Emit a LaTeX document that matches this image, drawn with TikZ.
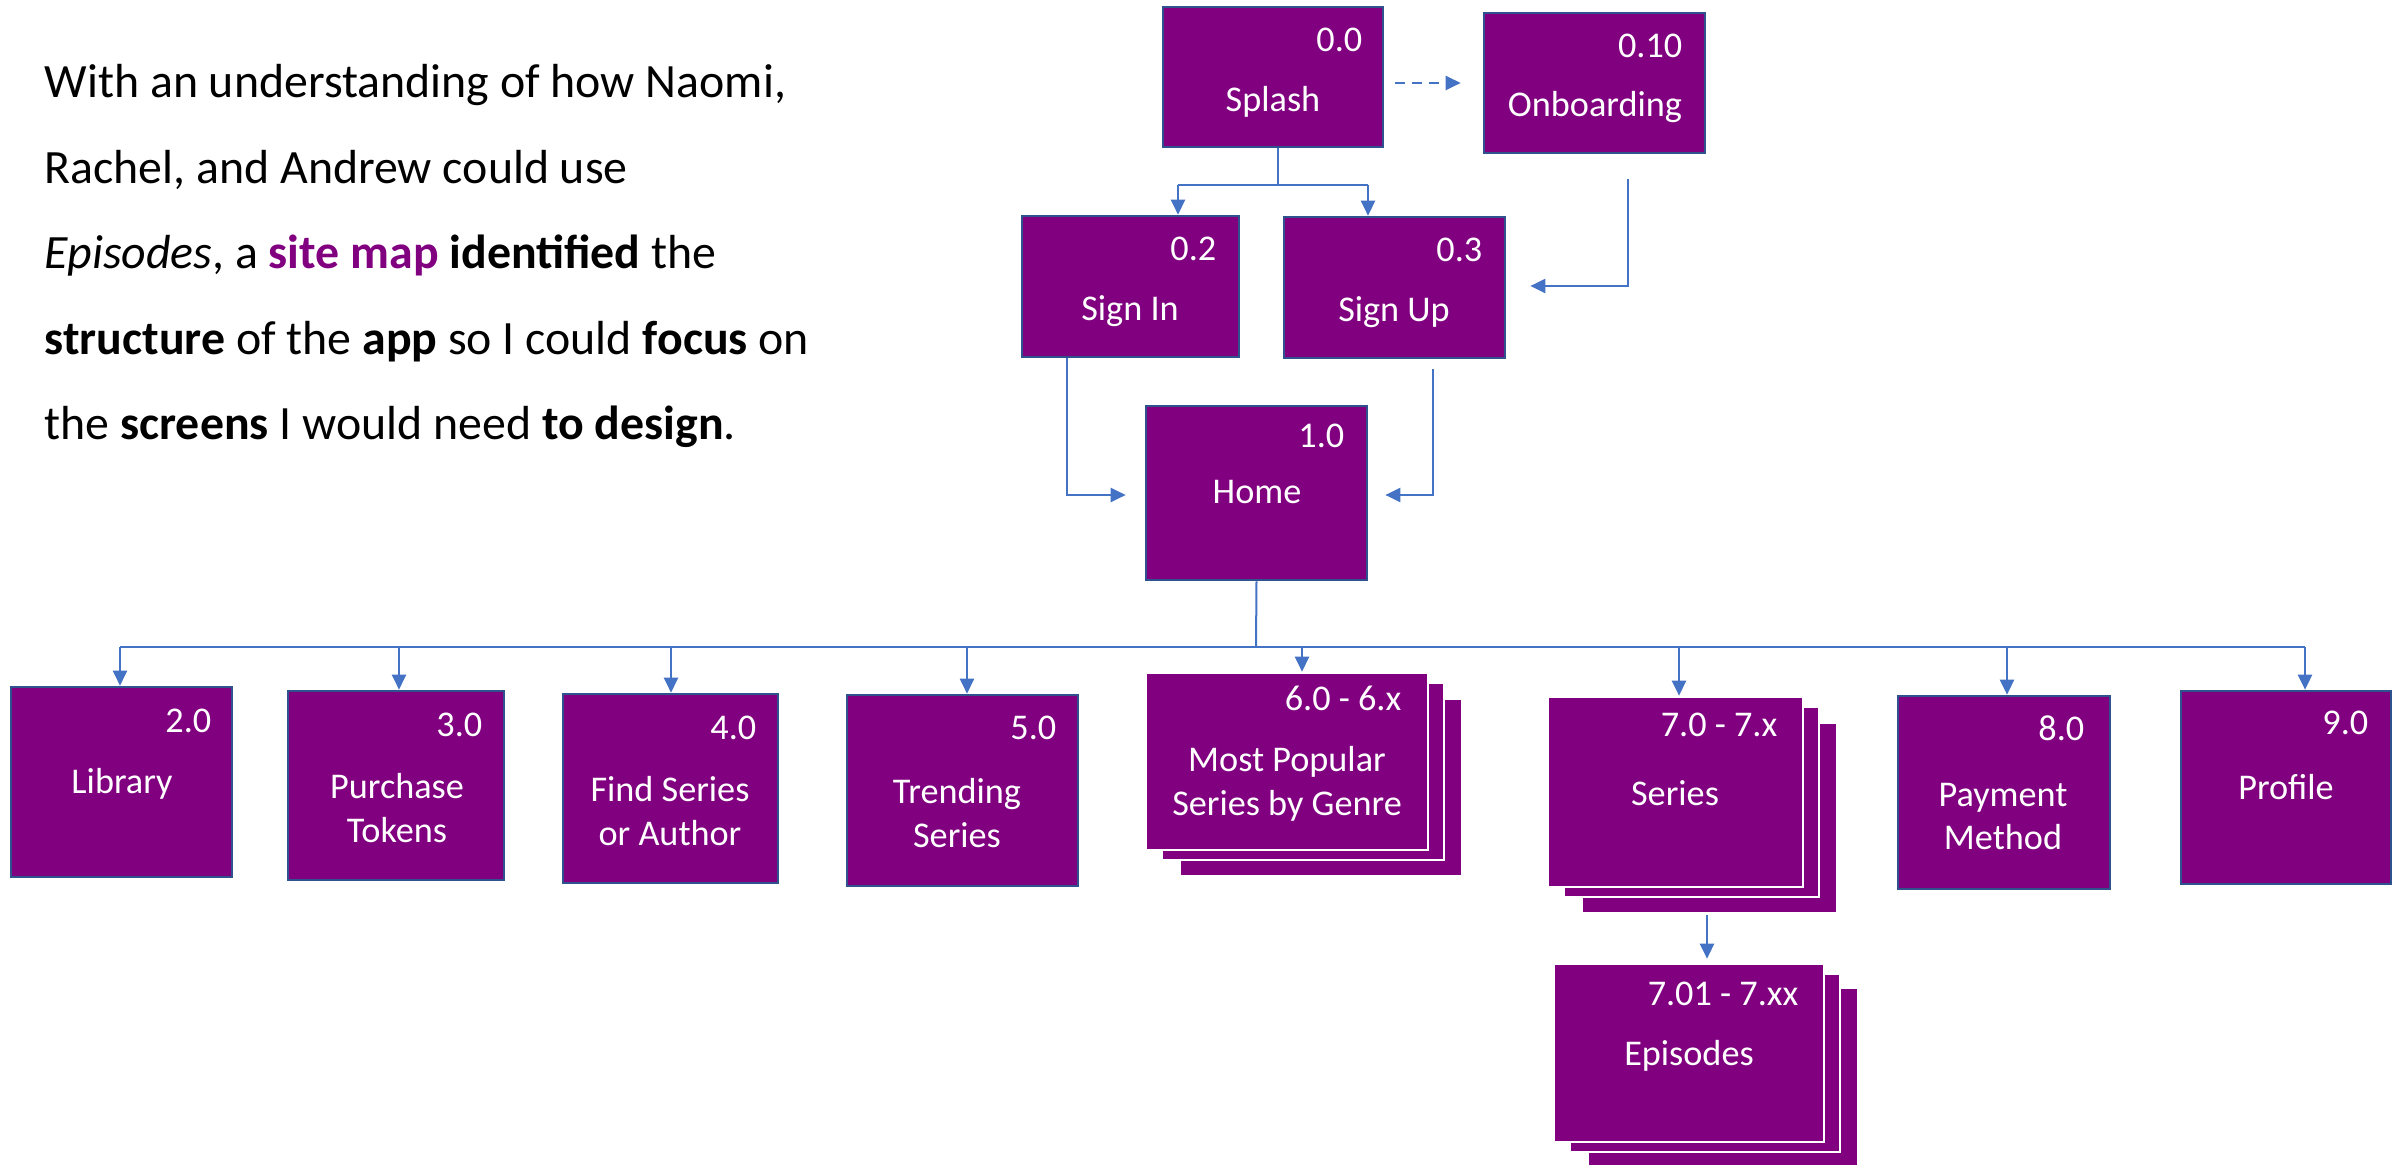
\documentclass[tikz,border=0pt]{standalone}
\usepackage{fontspec}
\setmainfont{Carlito}
\usetikzlibrary{arrows.meta}
\definecolor{boxfill}{HTML}{800080}
\definecolor{boxline}{HTML}{2F528F}
\definecolor{linkblue}{HTML}{4472C4}
\begin{document}
\begin{tikzpicture}[x=0.01cm, y=-0.01cm,
    box/.style={draw=boxline, fill=boxfill, line width=0.025cm, inner sep=0pt},
    sheet/.style={draw=white, fill=boxfill, line width=0.025cm, inner sep=0pt},
    scrnum/.style={anchor=base east, inner sep=0pt, text=white, font=\fontsize{10.3pt}{12.5pt}\selectfont},
    scrname/.style={anchor=base, inner sep=0pt, align=center, text=white, font=\fontsize{10.3pt}{12.5pt}\selectfont},
    para/.style={anchor=base west, inner sep=0pt, font=\fontsize{13.6pt}{16pt}\selectfont},
    link/.style={draw=linkblue, line width=0.02cm},
    arr/.style={link, line width=0.025cm, -{Triangle[length=0.15cm, width=0.14cm]}},
    dasharr/.style={arr, dash pattern=on 0.1cm off 0.07cm}]
            \useasboundingbox (0,0) rectangle (2402,1167);
            \node[para] (line1) at (44,98) {With an understanding of how Naomi,};
            \node[para] (line2) at (44,184) {Rachel, and Andrew could use};
            \node[para] (line3) at (44,269) {\textit{Episodes}, a \textcolor{boxfill}{\textbf{site map}} \textbf{identified} the};
            \node[para] (line4) at (44,355) {\textbf{structure} of the \textbf{app} so I could \textbf{focus} on};
            \node[para] (line5) at (44,440) {the \textbf{screens} I would need \textbf{to design}.};
            \node[box, minimum width=2.2cm, minimum height=1.4cm] (splash) at (1273,77) {};
            \node[scrnum] (splash-num) at (1363,52) {0.0};
            \node[scrname] (splash-name) at (1273,112) {Splash};
            \node[box, minimum width=2.21cm, minimum height=1.4cm] (onboard) at (1594.5,83) {};
            \node[scrnum] (onboard-num) at (1683,58) {0.10};
            \node[scrname] (onboard-name) at (1595,117) {Onboarding};
            \node[box, minimum width=2.17cm, minimum height=1.41cm] (signin) at (1130.5,286.5) {};
            \node[scrnum] (signin-num) at (1217,261) {0.2};
            \node[scrname] (signin-name) at (1130,321) {Sign In};
            \node[box, minimum width=2.21cm, minimum height=1.41cm] (signup) at (1394.5,287.5) {};
            \node[scrnum] (signup-num) at (1483,262) {0.3};
            \node[scrname] (signup-name) at (1394,322) {Sign Up};
            \node[box, minimum width=2.21cm, minimum height=1.74cm] (home) at (1256.5,493) {};
            \node[scrnum] (home-num) at (1345,448) {1.0};
            \node[scrname] (home-name) at (1257,504) {Home};
            \node[box, minimum width=2.21cm, minimum height=1.9cm] (library) at (121.5,782) {};
            \node[scrnum] (library-num) at (212,732) {2.0};
            \node[scrname] (library-name) at (122,794) {Library};
            \node[box, minimum width=2.16cm, minimum height=1.89cm] (tokens) at (396,785.5) {};
            \node[scrnum] (tokens-num) at (483,736) {3.0};
            \node[scrname] (tokens-name) at (397,842) {Purchase\\Tokens};
            \node[box, minimum width=2.15cm, minimum height=1.89cm] (find) at (670.5,788.5) {};
            \node[scrnum] (find-num) at (757,739) {4.0};
            \node[scrname] (find-name) at (670,845) {Find Series\\or Author};
            \node[box, minimum width=2.31cm, minimum height=1.91cm] (trend) at (962.5,790.5) {};
            \node[scrnum] (trend-num) at (1057,740) {5.0};
            \node[scrname] (trend-name) at (957,847) {Trending\\Series};
            \node[sheet, minimum width=2.82cm, minimum height=1.77cm] (popular-3) at (1321,787.5) {};
            \node[sheet, minimum width=2.82cm, minimum height=1.77cm] (popular-2) at (1303,771.5) {};
            \node[sheet, minimum width=2.82cm, minimum height=1.77cm] (popular) at (1287,761.5) {};
            \node[scrnum] (popular-num) at (1402,711) {6.0 - 6.x};
            \node[scrname] (popular-name) at (1287,815) {Most Popular\\Series by Genre};
            \node[sheet, minimum width=2.55cm, minimum height=1.9cm] (series-3) at (1709.5,818) {};
            \node[sheet, minimum width=2.55cm, minimum height=1.9cm] (series-2) at (1691.5,802) {};
            \node[sheet, minimum width=2.55cm, minimum height=1.9cm] (series) at (1675.5,792) {};
            \node[scrnum] (series-num) at (1778,737) {7.0 - 7.x};
            \node[scrname] (series-name) at (1675,805) {Series};
            \node[sheet, minimum width=2.7cm, minimum height=1.78cm] (episodes-3) at (1723,1077) {};
            \node[sheet, minimum width=2.7cm, minimum height=1.78cm] (episodes-2) at (1705,1063) {};
            \node[sheet, minimum width=2.7cm, minimum height=1.78cm] (episodes) at (1689,1053) {};
            \node[scrnum] (episodes-num) at (1799,1005) {7.01 - 7.xx};
            \node[scrname] (episodes-name) at (1689,1065) {Episodes};
            \node[box, minimum width=2.12cm, minimum height=1.93cm] (payment) at (2004,792.5) {};
            \node[scrnum] (payment-num) at (2085,741) {8.0};
            \node[scrname] (payment-name) at (2003,850) {Payment\\Method};
            \node[box, minimum width=2.1cm, minimum height=1.93cm] (profile) at (2286,787.5) {};
            \node[scrnum] (profile-num) at (2369,735) {9.0};
            \node[scrname] (profile-name) at (2286,800) {Profile};
            \coordinate (forkL) at (1178,185);
            \coordinate (forkR) at (1368,185);
            \coordinate (obend) at (1628,286);
            \coordinate (lbend) at (1067,495);
            \coordinate (rbend) at (1433,495);
            \coordinate (bus) at (1256,647);
            \coordinate (drop1) at (120,647);
            \coordinate (drop2) at (399,647);
            \coordinate (drop3) at (671,647);
            \coordinate (drop4) at (967,647);
            \coordinate (drop5) at (1302,647);
            \coordinate (drop6) at (1679,647);
            \coordinate (drop7) at (2007,647);
            \coordinate (drop8) at (2305,647);
            \coordinate (sdrop) at (1707,915);
            \draw[dasharr, shorten <=0.11cm, shorten >=0.22cm] (splash.east |- onboard.west) -- (onboard.west);
            \draw[link] (splash.south -| 1278,0) -- (1278,185);
            \draw[link] (forkL) -- (forkR);
            \draw[arr] (forkL) -- (forkL |- signin.north);
            \draw[arr] (forkR) -- (forkR |- signup.north);
            \draw[arr, shorten <=0.25cm, shorten >=0.24cm] (obend |- onboard.south) -- (obend) -- (obend -| signup.east);
            \draw[arr, shorten >=0.19cm] (lbend |- signin.south) -- (lbend) -- (lbend -| home.west);
            \draw[arr, shorten <=0.1cm, shorten >=0.17cm] (rbend |- signup.south) -- (rbend) -- (rbend -| home.east);
            \draw[link] (home.south) -- (bus);
            \draw[link] (drop1) -- (drop8);
            \draw[arr] (drop1) -- (drop1 |- library.north);
            \draw[arr] (drop2) -- (drop2 |- tokens.north);
            \draw[arr] (drop3) -- (drop3 |- find.north);
            \draw[arr] (drop4) -- (drop4 |- trend.north);
            \draw[arr] (drop5) -- (drop5 |- popular.north);
            \draw[arr] (drop6) -- (drop6 |- series.north);
            \draw[arr] (drop7) -- (drop7 |- payment.north);
            \draw[arr] (drop8) -- (drop8 |- profile.north);
            \draw[arr, shorten >=0.04cm] (sdrop) -- (sdrop |- episodes.north);
        \end{tikzpicture}
\end{document}
